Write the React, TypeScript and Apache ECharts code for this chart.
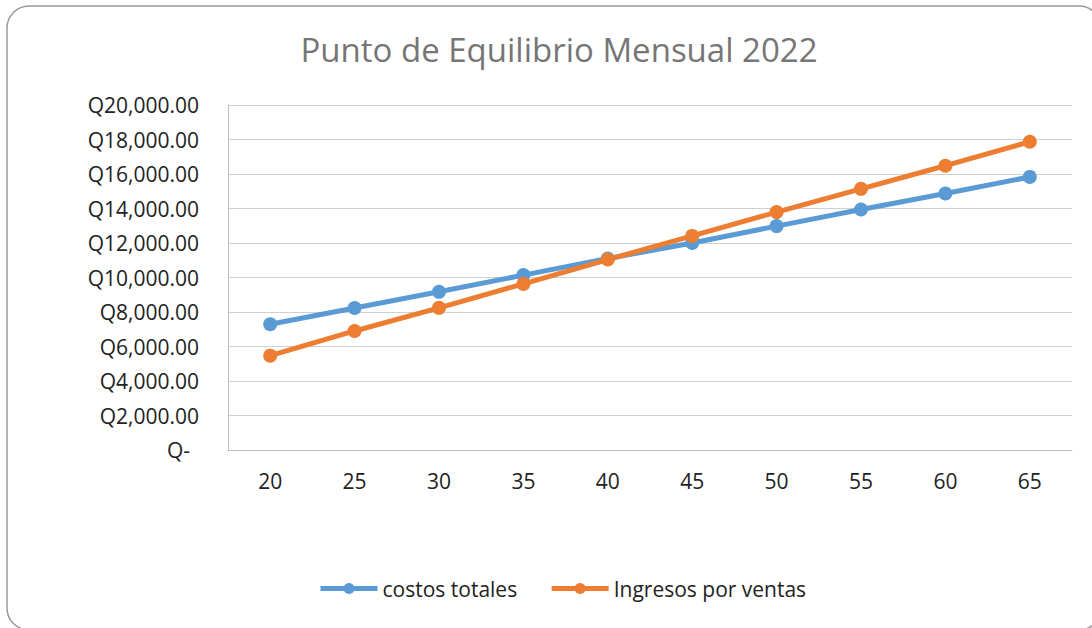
import React, { useEffect, useRef } from "react";
import * as echarts from "echarts";

const categories = ["20", "25", "30", "35", "40", "45", "50", "55", "60", "65"];
const costosTotales = [7290, 8230, 9170, 10140, 11100, 12000, 12980, 13940, 14870, 15830];
const ingresosVentas = [5470, 6900, 8240, 9630, 11040, 12410, 13790, 15140, 16480, 17870];
const seriesNames = ["costos totales", "Ingresos por ventas"];
const titleText = "Punto de Equilibrio Mensual 2022";

const FONT = "'Open Sans', 'Noto Sans', sans-serif";

function fmtQ(v: number): string {
  if (v === 0) return "{z|Q-}";
  return "Q" + v.toLocaleString("en-US", { minimumFractionDigits: 2, maximumFractionDigits: 2 });
}

export default function App() {
  const ref = useRef<HTMLDivElement>(null);
  useEffect(() => {
    document.body.style.margin = "0";
    if (!ref.current) return;
    const chart = echarts.init(ref.current, undefined, { renderer: "svg" });
    chart.setOption({
      animation: false,
      backgroundColor: "#ffffff",
      title: {
        text: titleText,
        left: 554,
        top: 28,
        textAlign: "center",
        textStyle: { fontFamily: FONT, fontSize: 33, fontWeight: "normal", color: "#767676" },
      },
      graphic: [
        {
          type: "rect",
          shape: { x: 7, y: 6, width: 1094, height: 624, r: 22 },
          style: { fill: "none", stroke: "#9a9a9a", lineWidth: 1.5 },
          z: 100,
          silent: true,
        },
      ],
      grid: { left: 228, right: 20, top: 105, bottom: 178, containLabel: false },
      legend: {
        data: seriesNames,
        left: 318,
        top: 578,
        padding: 0,
        itemWidth: 57,
        itemHeight: 14,
        itemGap: 32,
        lineStyle: { width: 5 },
        textStyle: { fontFamily: FONT, fontSize: 21, color: "#222" },
      } as any,
      xAxis: {
        type: "category",
        data: categories,
        boundaryGap: true,
        axisLine: { show: true, lineStyle: { color: "#bfbfbf", width: 1 } },
        axisTick: { show: false },
        axisLabel: { margin: 20, fontFamily: FONT, fontSize: 21, color: "#222" },
      },
      yAxis: {
        type: "value",
        min: 0,
        max: 20000,
        interval: 2000,
        axisLine: { show: true, lineStyle: { color: "#bfbfbf", width: 1 } },
        axisTick: { show: false },
        splitLine: { show: true, lineStyle: { color: "#d0d0d0", width: 1 } },
        axisLabel: {
          margin: 29,
          fontFamily: FONT,
          fontSize: 21,
          color: "#222",
          formatter: (v: number) => fmtQ(v),
          rich: { z: { fontFamily: FONT, fontSize: 21, color: "#222", padding: [0, 9, 0, 0] } },
        },
      },
      series: [
        {
          name: seriesNames[0],
          type: "line",
          data: costosTotales,
          symbol: "circle",
          symbolSize: 14,
          lineStyle: { color: "#5B9BD5", width: 5 },
          itemStyle: { color: "#5B9BD5" },
        },
        {
          name: seriesNames[1],
          type: "line",
          data: ingresosVentas,
          symbol: "circle",
          symbolSize: 14,
          lineStyle: { color: "#ED7D31", width: 5 },
          itemStyle: { color: "#ED7D31" },
        },
      ],
    });
    return () => chart.dispose();
  }, []);
  return (
    <div
      ref={ref}
      style={{ position: "fixed", left: 0, top: 0, width: 1092, height: 628 }}
    />
  );
}
